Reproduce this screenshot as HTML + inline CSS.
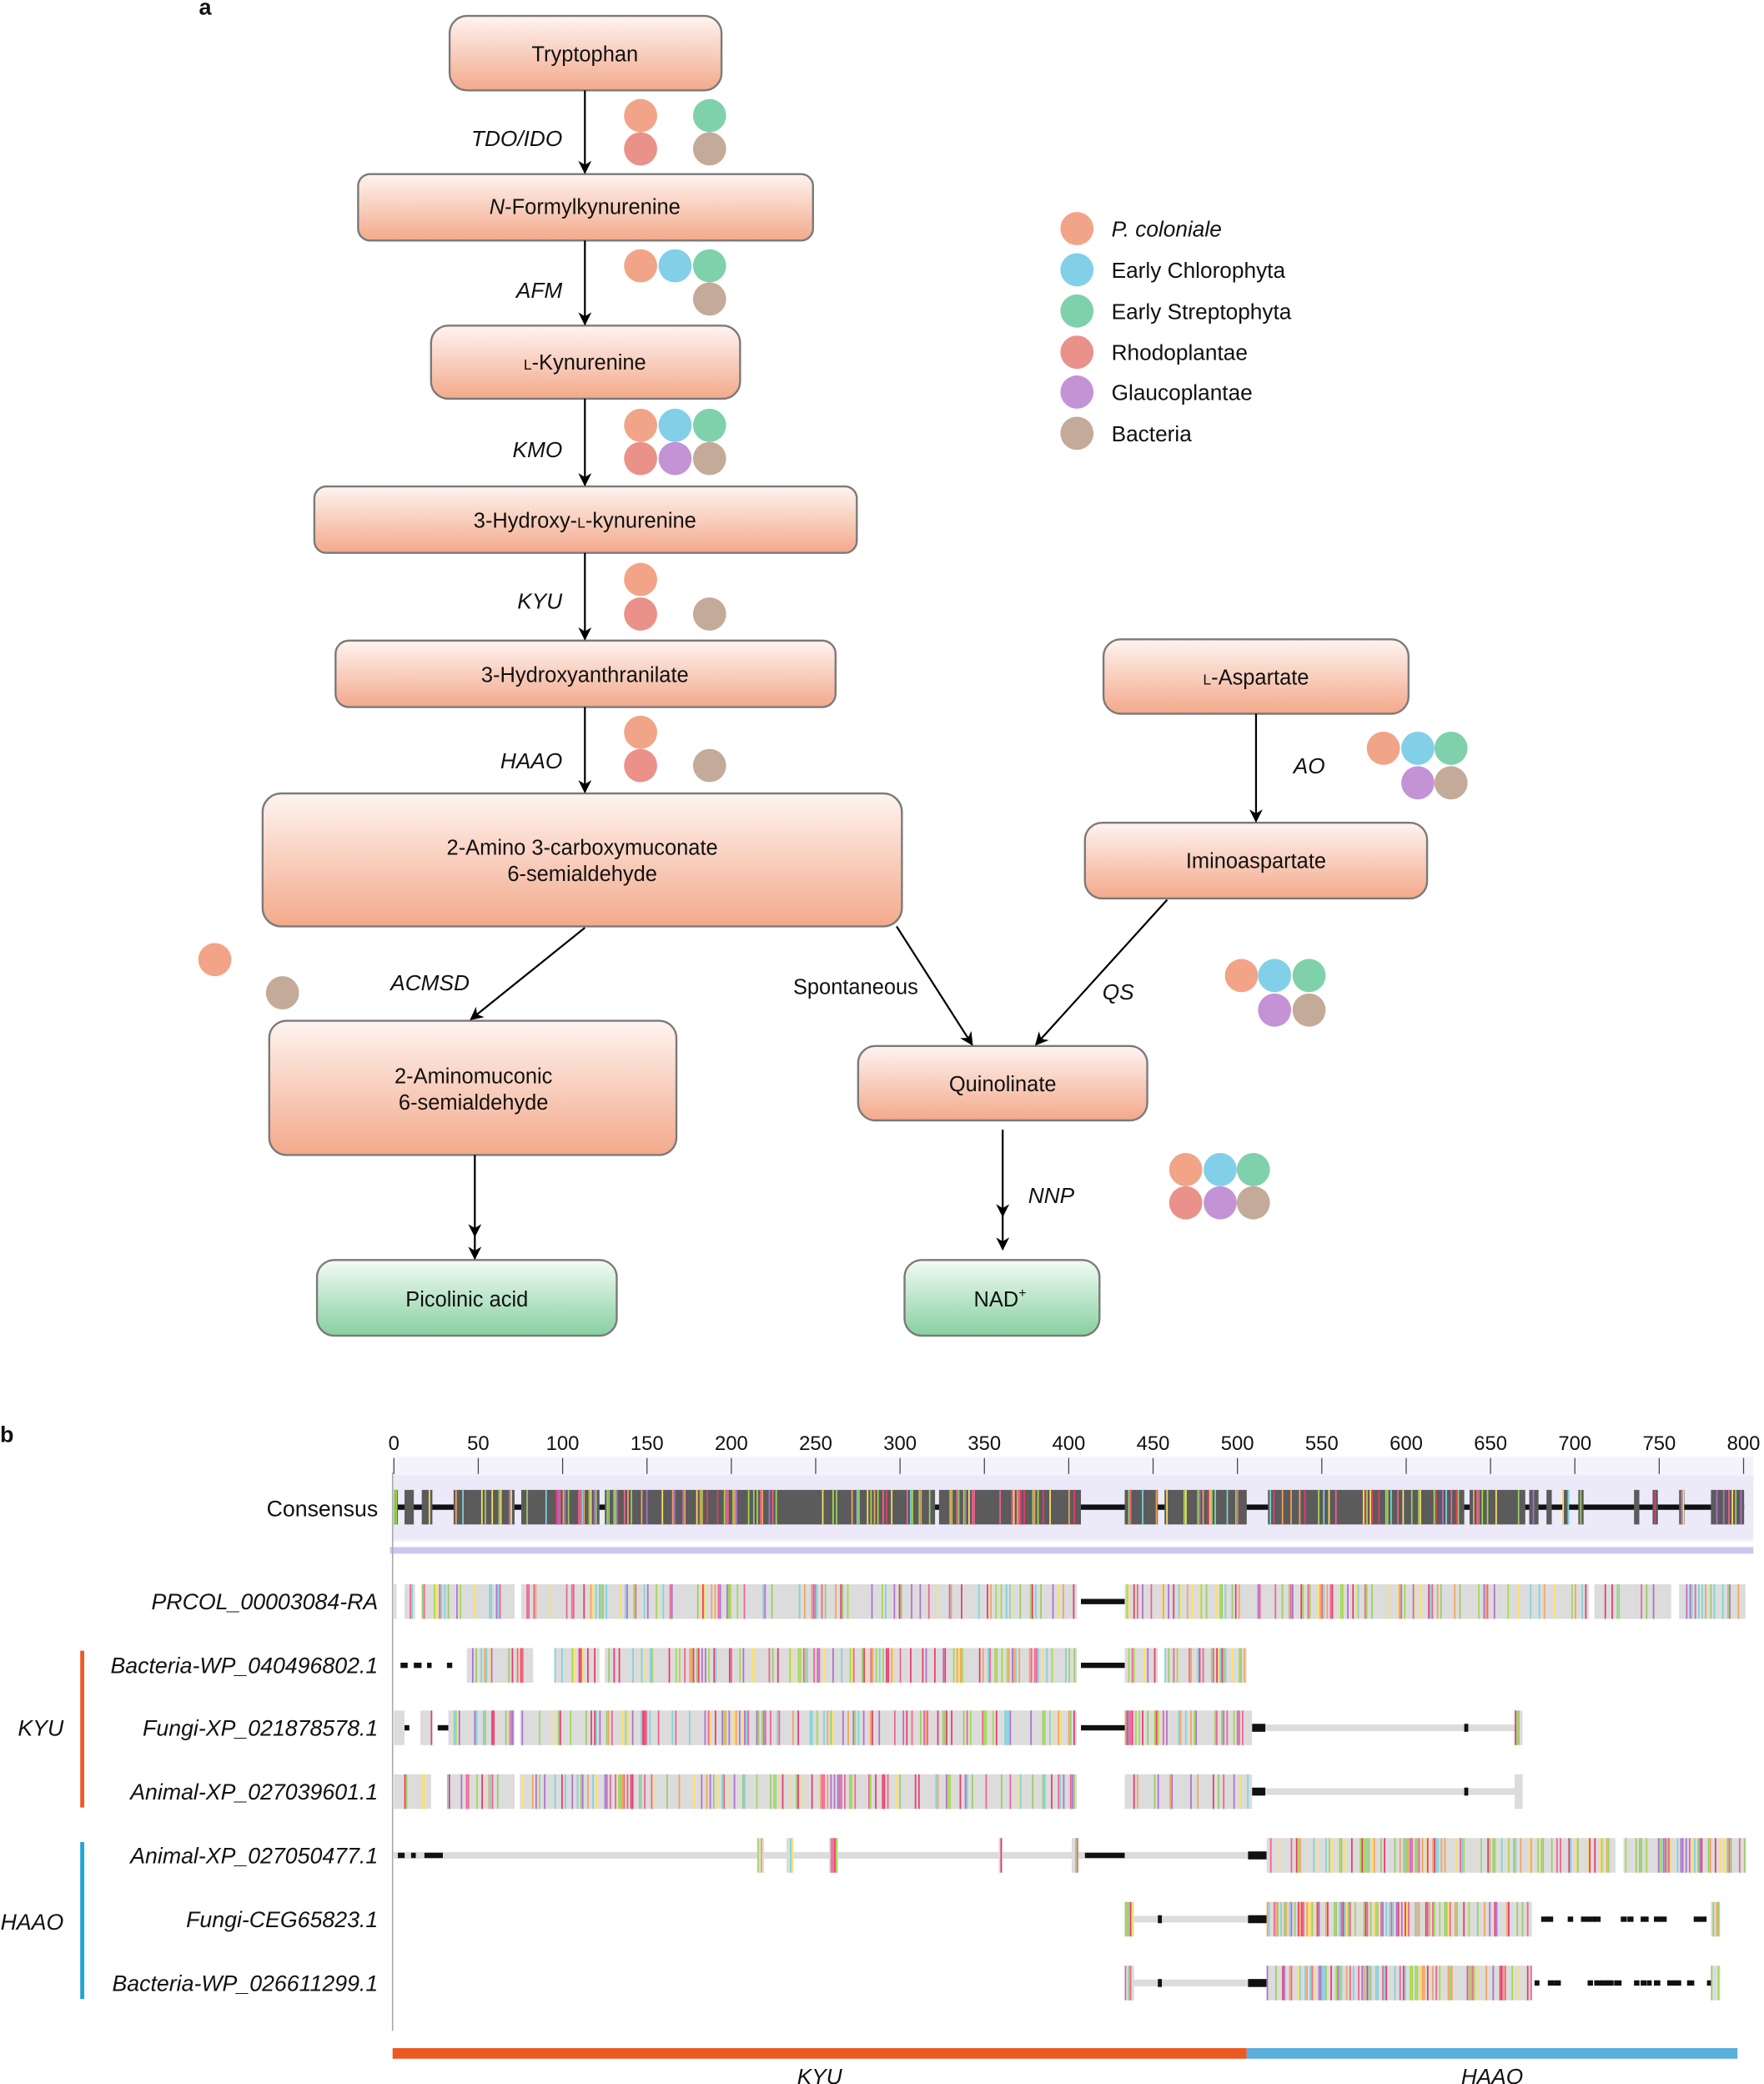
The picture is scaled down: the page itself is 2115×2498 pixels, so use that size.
<!DOCTYPE html>
<html><head><meta charset="utf-8"><style>
html,body{margin:0;padding:0;background:#fff}
svg{display:block}
text{font-family:"Liberation Sans",Arial,sans-serif;fill:#111}
.bx{font-size:16px;text-anchor:middle}
.lb{font-size:16.5px;font-style:italic;text-anchor:end}
.rl{font-size:16.8px;font-style:italic;text-anchor:end}
.ax{font-size:15px;text-anchor:middle}
</style></head><body>
<svg id="s" width="2115" height="2498" viewBox="0 0 1330 1568" preserveAspectRatio="none" xmlns="http://www.w3.org/2000/svg">
<defs>
<linearGradient id="o" x1="0" y1="0" x2="0" y2="1"><stop offset="0" stop-color="#fef4f0"/><stop offset="1" stop-color="#f3a98b"/></linearGradient>
<linearGradient id="g" x1="0" y1="0" x2="0" y2="1"><stop offset="0" stop-color="#f3fbf5"/><stop offset="1" stop-color="#86d0a0"/></linearGradient>
<marker id="ar" markerWidth="10" markerHeight="10" refX="9" refY="5" orient="auto" markerUnits="userSpaceOnUse"><path d="M0,0 L10,5 L0,10 L3,5 Z" fill="#000"/></marker>
</defs>
<text x="150" y="11" style="font-size:17px;font-weight:bold">a</text>
<g stroke="#7a7a7a" stroke-width="1.5">
<rect x="339" y="12" width="205" height="56" rx="13" fill="url(#o)"/>
<rect x="270" y="131" width="343" height="50" rx="9" fill="url(#o)"/>
<rect x="325" y="245" width="233" height="55" rx="13" fill="url(#o)"/>
<rect x="237" y="366" width="409" height="50" rx="9" fill="url(#o)"/>
<rect x="253" y="482" width="377" height="50" rx="10" fill="url(#o)"/>
<rect x="198" y="597" width="482" height="100" rx="14" fill="url(#o)"/>
<rect x="203" y="768" width="307" height="101" rx="13" fill="url(#o)"/>
<rect x="239" y="948" width="226" height="57" rx="13" fill="url(#g)"/>
<rect x="647" y="787" width="218" height="56" rx="13" fill="url(#o)"/>
<rect x="682" y="948" width="147" height="57" rx="13" fill="url(#g)"/>
<rect x="832" y="481" width="230" height="56" rx="13" fill="url(#o)"/>
<rect x="818" y="619" width="258" height="57" rx="13" fill="url(#o)"/>
</g>
<text class="bx" x="441" y="46">Tryptophan</text>
<text class="bx" x="441" y="161"><tspan font-style="italic">N</tspan>-Formylkynurenine</text>
<text class="bx" x="441" y="278"><tspan font-size="11">L</tspan>-Kynurenine</text>
<text class="bx" x="441" y="397">3-Hydroxy-<tspan font-size="11">L</tspan>-kynurenine</text>
<text class="bx" x="441" y="513">3-Hydroxyanthranilate</text>
<text class="bx" x="439" y="643">2-Amino 3-carboxymuconate</text>
<text class="bx" x="439" y="663">6-semialdehyde</text>
<text class="bx" x="357" y="815">2-Aminomuconic</text>
<text class="bx" x="357" y="835">6-semialdehyde</text>
<text class="bx" x="352" y="983">Picolinic acid</text>
<text class="bx" x="756" y="821">Quinolinate</text>
<text class="bx" x="754" y="983">NAD<tspan font-size="10" dy="-7">+</tspan></text>
<text class="bx" x="947" y="515"><tspan font-size="11">L</tspan>-Aspartate</text>
<text class="bx" x="947" y="653">Iminoaspartate</text>
<g stroke="#000" stroke-width="1.4" marker-end="url(#ar)">
<line x1="441" y1="68" x2="441" y2="130"/>
<line x1="441" y1="181" x2="441" y2="244"/>
<line x1="441" y1="300" x2="441" y2="365"/>
<line x1="441" y1="416" x2="441" y2="481"/>
<line x1="441" y1="532" x2="441" y2="596"/>
<line x1="441" y1="698" x2="355" y2="767"/>
<line x1="358" y1="869" x2="358" y2="930"/>
<line x1="358" y1="925" x2="358" y2="947"/>
<line x1="676" y1="697" x2="733" y2="786"/>
<line x1="880" y1="677" x2="781" y2="786"/>
<line x1="947" y1="537" x2="947" y2="618"/>
<line x1="756" y1="850" x2="756" y2="915"/>
<line x1="756" y1="912" x2="756" y2="940"/>
</g>
<text class="lb" x="424" y="110">TDO/IDO</text>
<text class="lb" x="424" y="224">AFM</text>
<text class="lb" x="424" y="344">KMO</text>
<text class="lb" x="424" y="458">KYU</text>
<text class="lb" x="424" y="578">HAAO</text>
<text class="lb" x="354" y="745">ACMSD</text>
<text x="598" y="748" style="font-size:16px">Spontaneous</text>
<text class="lb" x="855" y="752">QS</text>
<text class="lb" x="999" y="582">AO</text>
<text class="lb" x="810" y="905">NNP</text>
<g id="dots"></g>
<g font-size="16.5">
<text x="838" y="178" font-style="italic">P. coloniale</text>
<text x="838" y="209">Early Chlorophyta</text>
<text x="838" y="240">Early Streptophyta</text>
<text x="838" y="271">Rhodoplantae</text>
<text x="838" y="301">Glaucoplantae</text>
<text x="838" y="332">Bacteria</text>
</g>
<text x="0" y="1085" style="font-size:17px;font-weight:bold">b</text>
<rect x="296" y="1096" width="1026" height="64" fill="#f4f3fc"/>
<rect x="296" y="1110" width="1026" height="48" fill="#eceaf9"/>
<rect x="294" y="1164" width="1028" height="5" fill="#cbc7ef"/>
<line x1="296" y1="1108" x2="296" y2="1528" stroke="#aaa" stroke-width="1"/>
<g id="ax"></g>
<text class="rl" x="285" y="1141" style="font-style:normal">Consensus</text>
<text class="rl" x="285" y="1211">PRCOL_00003084-RA</text>
<text class="rl" x="285" y="1259">Bacteria-WP_040496802.1</text>
<text class="rl" x="285" y="1306">Fungi-XP_021878578.1</text>
<text class="rl" x="285" y="1354">Animal-XP_027039601.1</text>
<text class="rl" x="285" y="1402">Animal-XP_027050477.1</text>
<text class="rl" x="285" y="1450">Fungi-CEG65823.1</text>
<text class="rl" x="285" y="1498">Bacteria-WP_026611299.1</text>
<rect x="60.5" y="1242" width="3" height="118" fill="#ec5a24"/>
<rect x="60.5" y="1386" width="3" height="118" fill="#1aa7d6"/>
<text class="rl" x="48" y="1306">KYU</text>
<text class="rl" x="48" y="1452">HAAO</text>
<rect x="296" y="1541" width="644" height="8" fill="#ec5a24"/>
<rect x="940" y="1541" width="370" height="8" fill="#5aafdc"/>
<text x="618" y="1568" style="font-size:16.5px;font-style:italic;text-anchor:middle">KYU</text>
<text x="1125" y="1568" style="font-size:16.5px;font-style:italic;text-anchor:middle">HAAO</text>
<g id="aln"></g>
</svg>
<script>
var NS="http://www.w3.org/2000/svg";
function el(p,t,a){var e=document.createElementNS(NS,t);for(var k in a)e.setAttribute(k,a[k]);p.appendChild(e);return e;}
var C={o:"#f2a488",b:"#82cfe8",g:"#7fd1ab",r:"#ea918a",p:"#c493d6",n:"#c4aa98"};
var D=document.getElementById("dots");
var dl=[[483,87,"o"],[535,87,"g"],[483,112,"r"],[535,112,"n"],
[483,200,"o"],[509,200,"b"],[535,200,"g"],[535,225,"n"],
[483,320,"o"],[509,320,"b"],[535,320,"g"],[483,345,"r"],[509,345,"p"],[535,345,"n"],
[483,436,"o"],[483,462,"r"],[535,462,"n"],
[483,551,"o"],[483,576,"r"],[535,576,"n"],
[162,722,"o"],[213,747,"n"],
[936,734,"o"],[961,734,"b"],[987,734,"g"],[961,760,"p"],[987,760,"n"],
[1043,563,"o"],[1069,563,"b"],[1094,563,"g"],[1069,589,"p"],[1094,589,"n"],
[894,880,"o"],[920,880,"b"],[945,880,"g"],[894,905,"r"],[920,905,"p"],[945,905,"n"],
[812,172,"o"],[812,203,"b"],[812,234,"g"],[812,265,"r"],[812,295,"p"],[812,326,"n"]];
dl.forEach(function(d){el(D,"ellipse",{cx:d[0],cy:d[1],rx:12.5,ry:12.5,fill:C[d[2]]});});
var A=document.getElementById("ax");
for(var i=0;i<=16;i++){var x=297+i*63.6;el(A,"line",{x1:x,y1:1097,x2:x,y2:1109,stroke:"#444","stroke-width":0.8});
var t=el(A,"text",{x:x,y:1091,"class":"ax"});t.textContent=i*50;}
var seed=7;function R(){seed=(seed*16807)%2147483647;return seed/2147483647;}
var pal=["#f06292","#a3d94d","#ffe066","#b06fcf","#7fd3d9","#f5a35c","#e83a6a","#9ccc65"];
var G=document.getElementById("aln");
function blk(x1,x2,cy,bg,dens){el(G,"rect",{x:x1,y:cy-13,width:x2-x1,height:26,fill:bg});
for(var x=x1;x<x2-1;x+=1.3){if(R()<dens){el(G,"rect",{x:x,y:cy-13,width:1.1,height:26,fill:pal[Math.floor(R()*pal.length)]});}}}
function ln(x1,x2,cy,c,h){el(G,"rect",{x:x1,y:cy-h/2,width:x2-x1,height:h,fill:c});}
function dash(x1,x2,cy){for(var x=x1;x<x2;x+=5){if(R()<0.6)el(G,"rect",{x:x,y:cy-2,width:3+R()*3,height:4,fill:"#111"});}}
var cy=1134;
ln(297,1315,cy,"#111",4);
[[297,300],[305,312],[318,326],[342,388],[393,452],[456,705],[708,815],[848,873],[878,940],[956,1104],[1108,1150],[1153,1160],[1166,1170],[1178,1183],[1190,1194],[1232,1236],[1246,1250],[1266,1270],[1290,1315]].forEach(function(s){blk(s[0],s[1],cy,"#5b5b5b",0.3);});
cy=1205;
ln(815,848,cy,"#111",4);
[[297,299],[305,313],[318,388],[393,812],[848,1198],[1202,1260],[1266,1316]].forEach(function(s){blk(s[0],s[1],cy,"#dcdcdc",0.28);});
cy=1253;dash(297,345,cy);ln(815,848,cy,"#111",4);
[[352,402],[418,452],[456,812],[848,873],[878,940]].forEach(function(s){blk(s[0],s[1],cy,"#dcdcdc",0.35);});
cy=1300;ln(944,1142,cy,"#dcdcdc",5);dash(300,345,cy);ln(815,848,cy,"#111",4);el(G,"rect",{x:944,y:cy-3,width:10,height:6,fill:"#111"});el(G,"rect",{x:1104,y:cy-3,width:3,height:6,fill:"#111"});
[[297,305],[317,326],[338,388],[392,812],[848,944],[1142,1148]].forEach(function(s){blk(s[0],s[1],cy,"#dcdcdc",0.35);});
cy=1348;ln(944,1142,cy,"#dcdcdc",5);el(G,"rect",{x:944,y:cy-3,width:10,height:6,fill:"#111"});el(G,"rect",{x:1104,y:cy-3,width:3,height:6,fill:"#111"});
[[297,325],[337,388],[392,812],[848,944],[1142,1148]].forEach(function(s){blk(s[0],s[1],cy,"#dcdcdc",0.3);});
cy=1396;ln(297,955,cy,"#dcdcdc",5);dash(300,340,cy);ln(818,848,cy,"#111",4);el(G,"rect",{x:941,y:cy-3,width:14,height:6,fill:"#111"});
[[571,576],[593,598],[625,632],[753,756],[808,813],[955,1218],[1224,1316]].forEach(function(s){blk(s[0],s[1],cy,"#dcdcdc",0.4);});
[1444,1492].forEach(function(c){ln(854,955,c,"#dcdcdc",5);el(G,"rect",{x:941,y:c-3,width:14,height:6,fill:"#111"});el(G,"rect",{x:873,y:c-3,width:3,height:6,fill:"#111"});
dash(1157,1290,c);blk(848,855,c,"#dcdcdc",0.6);blk(955,1155,c,"#dcdcdc",0.5);blk(1290,1297,c,"#dcdcdc",0.3);});
</script>
</body></html>
